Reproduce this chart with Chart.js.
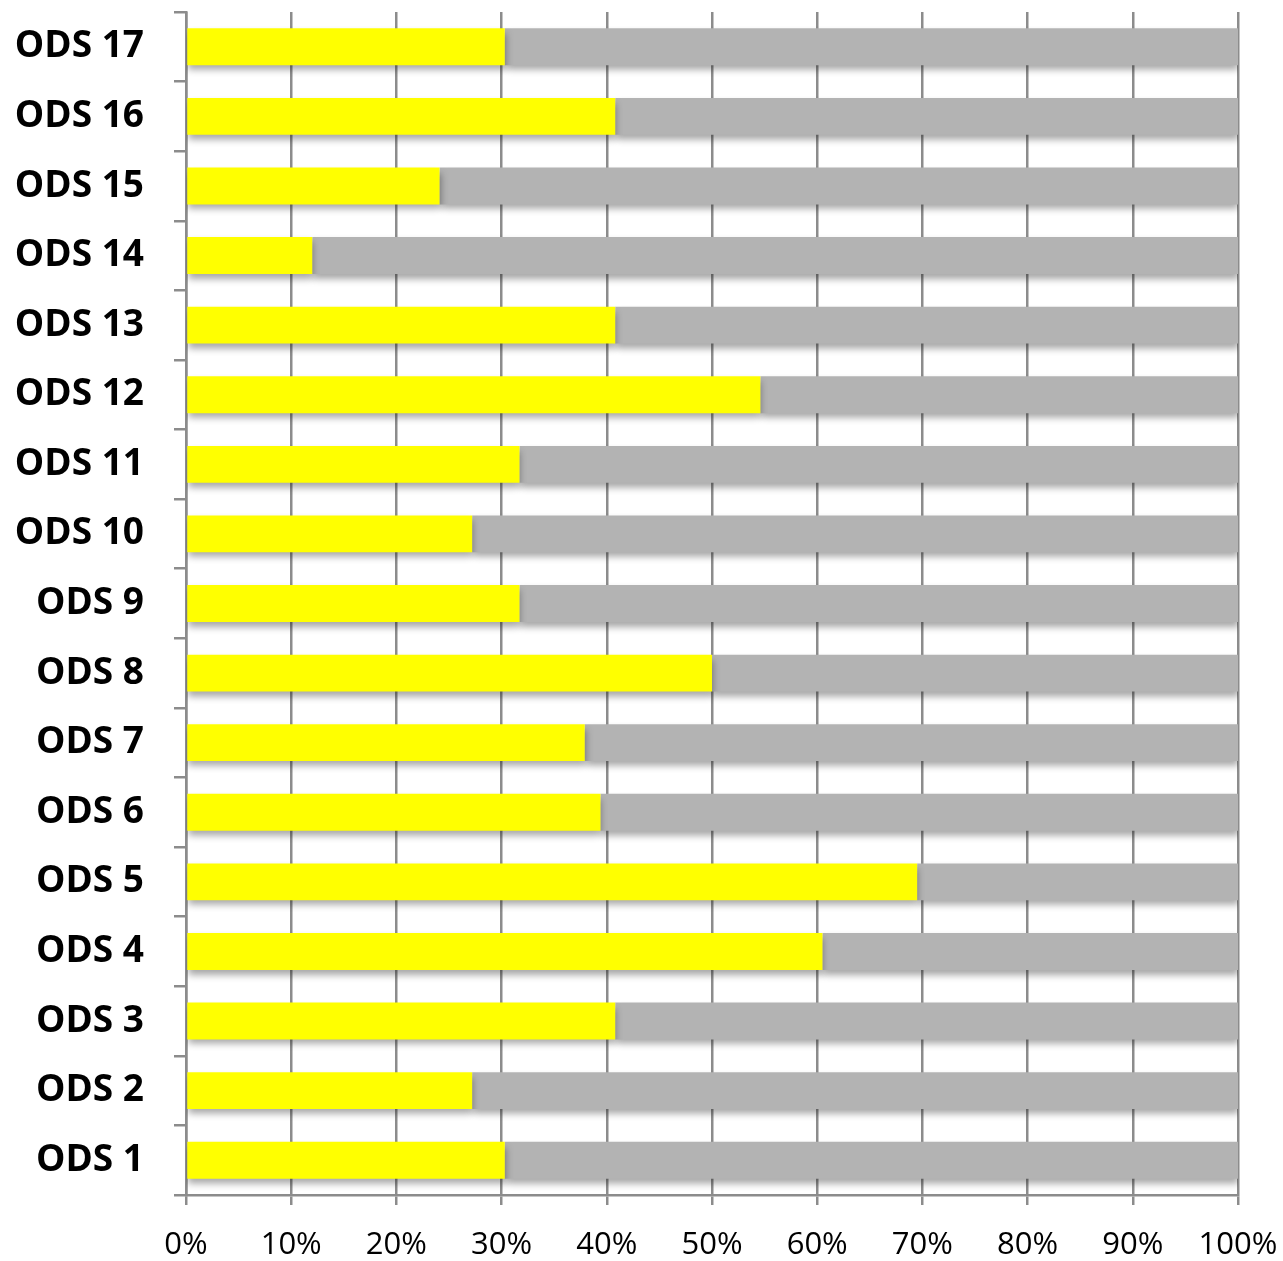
<!DOCTYPE html>
<html>
<head>
<meta charset="utf-8">
<script src="https://cdn.jsdelivr.net/npm/chart.js@4.4.1/dist/chart.umd.min.js"></script>
<style>
  html, body { margin: 0; padding: 0; background: #fff; }
  #wrap { width: 1283px; height: 1261px; }
</style>
</head>
<body>
<div id="wrap"><canvas id="odsChart" width="1283" height="1261"></canvas></div>
<script>
// categories, bottom to top
const categories = ['ODS 1', 'ODS 2', 'ODS 3', 'ODS 4', 'ODS 5', 'ODS 6', 'ODS 7', 'ODS 8', 'ODS 9',
  'ODS 10', 'ODS 11', 'ODS 12', 'ODS 13', 'ODS 14', 'ODS 15', 'ODS 16', 'ODS 17'];

// yellow share (%)
const yellowValues = [30.3, 27.2, 40.8, 60.5, 69.5, 39.4, 37.9, 50.0, 31.7,
  27.2, 31.7, 54.6, 40.8, 12.0, 24.1, 40.8, 30.3];
// grey remainder (%)
const greyValues = [69.7, 72.8, 59.2, 39.5, 30.5, 60.6, 62.1, 50.0, 68.3,
  72.8, 68.3, 45.4, 59.2, 88.0, 75.9, 59.2, 69.7];

const xTicks = [0, 10, 20, 30, 40, 50, 60, 70, 80, 90, 100];

// soft drop shadow under the bars
const barShadow = {
  id: 'barShadow',
  beforeDatasetsDraw(chart) {
    const c = chart.ctx;
    c.save();
    c.shadowColor = 'rgba(0,0,0,0.35)';
    c.shadowBlur = 7;
    c.shadowOffsetX = 1;
    c.shadowOffsetY = 5;
  },
  afterDatasetsDraw(chart) {
    chart.ctx.restore();
  }
};

const ctx = document.getElementById('odsChart').getContext('2d');
new Chart(ctx, {
  type: 'bar',
  data: {
    labels: categories,
    datasets: [
      { data: yellowValues, backgroundColor: '#ffff00', borderWidth: 0 },
      { data: greyValues, backgroundColor: '#b3b3b3', borderWidth: 0 }
    ]
  },
  plugins: [barShadow],
  options: {
    indexAxis: 'y',
    responsive: false,
    animation: false,
    categoryPercentage: 1,
    barPercentage: 0.53,
    layout: { padding: { top: 12, right: 45, bottom: 0, left: 0 } },
    plugins: { legend: { display: false }, tooltip: { enabled: false } },
    scales: {
      x: {
        stacked: true,
        min: 0,
        max: 100,
        afterBuildTicks: scale => { scale.ticks = xTicks.map(v => ({ value: v })); },
        afterFit: scale => {
          scale.height = 66;
          scale.paddingLeft = 0;
          scale.paddingRight = 0;
        },
        grid: { color: '#8c8c8c', lineWidth: 2.5, tickLength: 10, drawOnChartArea: true },
        border: { color: '#8c8c8c', width: 2.5 },
        ticks: {
          padding: 22,
          color: '#000',
          font: { family: 'Open Sans', size: 31 },
          callback: v => v + '%',
          maxRotation: 0
        }
      },
      y: {
        stacked: true,
        reverse: true,
        afterFit: scale => {
          scale.width = 186;
          scale.paddingTop = 0;
          scale.paddingBottom = 0;
        },
        grid: { color: '#8c8c8c', lineWidth: 2.5, tickLength: 12, drawOnChartArea: false, offset: true },
        border: { color: '#8c8c8c', width: 2.5 },
        ticks: {
          padding: 30,
          color: '#000',
          font: { family: 'Open Sans', size: 37, weight: 'bold' }
        }
      }
    }
  }
});
</script>
</body>
</html>
